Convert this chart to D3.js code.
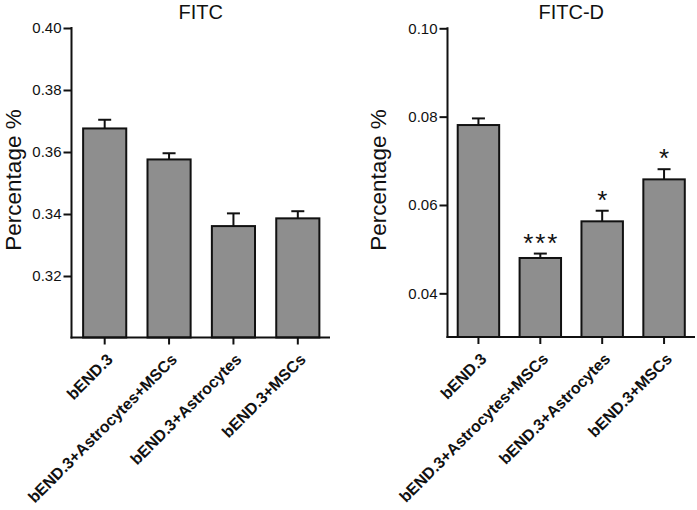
<!DOCTYPE html>
<html>
<head>
<meta charset="utf-8">
<script src="https://cdn.jsdelivr.net/npm/d3@7"></script>
<style>
  html, body { margin: 0; padding: 0; background: #fff; }
  svg { display: block; font-family: "Liberation Sans", Arial, sans-serif; }
</style>
</head>
<body>
<svg id="chart" width="697" height="510"></svg>
<script>
const categories = ["bEND.3", "bEND.3+Astrocytes+MSCs", "bEND.3+Astrocytes", "bEND.3+MSCs"];

const fitcMeans  = [0.3676, 0.3576, 0.3361, 0.3386];
const fitcErrors = [0.0028, 0.0020, 0.0041, 0.0023];
const fitcTicks  = [0.32, 0.34, 0.36, 0.38, 0.40];
const fitcDomain = [0.30, 0.40];
const fitcSig    = ["", "", "", ""];

const fitcdMeans  = [0.0781, 0.0480, 0.0563, 0.0658];
const fitcdErrors = [0.0015, 0.0010, 0.0024, 0.0023];
const fitcdTicks  = [0.04, 0.06, 0.08, 0.10];
const fitcdDomain = [0.03, 0.10];
const fitcdSig    = ["", "***", "*", "*"];

const svg = d3.select("#chart");

function drawPanel(opts) {
  const g = svg.append("g");
  const y = d3.scaleLinear().domain(opts.domain).range([opts.yBottom, opts.yTop]);
  const x = d3.scaleBand().domain(categories).range([opts.xStart, opts.xEnd])
    .paddingInner(0.33).paddingOuter(0.165);
  const axisY = opts.yBottom - 0.5;

  // title
  g.append("text")
    .attr("x", (opts.axisX + opts.xEnd) / 2).attr("y", 19)
    .attr("text-anchor", "middle").attr("font-size", 20).attr("fill", "#111")
    .text(opts.title);

  // y label
  g.append("text")
    .attr("transform", `translate(${opts.labelX},180) rotate(-90)`)
    .attr("text-anchor", "middle").attr("font-size", 22.5).attr("fill", "#111")
    .text("Percentage %");

  const rows = categories.map((c, i) => ({ c, m: opts.means[i], e: opts.errors[i], s: opts.sig[i] }));

  // bars
  g.selectAll("rect.bar").data(rows).join("rect")
    .attr("class", "bar")
    .attr("x", d => x(d.c)).attr("width", x.bandwidth())
    .attr("y", d => y(d.m)).attr("height", d => axisY - y(d.m))
    .attr("fill", "#8e8e8e").attr("stroke", "#111").attr("stroke-width", 2);

  // error bars
  g.selectAll("line.err").data(rows).join("line")
    .attr("class", "err")
    .attr("x1", d => x(d.c) + x.bandwidth() / 2).attr("x2", d => x(d.c) + x.bandwidth() / 2)
    .attr("y1", d => y(d.m)).attr("y2", d => y(d.m + d.e))
    .attr("stroke", "#111").attr("stroke-width", 2);
  g.selectAll("line.cap").data(rows).join("line")
    .attr("class", "cap")
    .attr("x1", d => x(d.c) + x.bandwidth() / 2 - 6.5).attr("x2", d => x(d.c) + x.bandwidth() / 2 + 6.5)
    .attr("y1", d => y(d.m + d.e)).attr("y2", d => y(d.m + d.e))
    .attr("stroke", "#111").attr("stroke-width", 2);

  // significance stars
  g.selectAll("text.sig").data(rows.filter(d => d.s)).join("text")
    .attr("class", "sig")
    .attr("x", d => x(d.c) + x.bandwidth() / 2 + 1)
    .attr("y", d => y(d.m + d.e) - 2)
    .attr("text-anchor", "middle").attr("font-size", 26).attr("letter-spacing", 2)
    .attr("fill", "#111")
    .text(d => d.s);

  // y axis
  const ya = g.append("g").attr("transform", `translate(${opts.axisX},0)`)
    .call(d3.axisLeft(y).tickValues(opts.ticks).tickSize(8).tickPadding(2)
      .tickFormat(d3.format(".2f")).tickSizeOuter(0));
  ya.select(".domain").remove();
  ya.append("line").attr("x1", 0).attr("x2", 0).attr("y1", opts.yTop - 1).attr("y2", axisY + 1)
    .attr("stroke", "#111").attr("stroke-width", 2);
  ya.selectAll(".tick line").attr("stroke", "#111").attr("stroke-width", 2);
  ya.selectAll(".tick text").attr("font-size", 15).attr("fill", "#111")
    .attr("font-family", "Liberation Sans, Arial, sans-serif");

  // x axis
  const xa = g.append("g").attr("transform", `translate(0,${axisY})`)
    .call(d3.axisBottom(x).tickSize(7).tickSizeOuter(0));
  xa.select(".domain").remove();
  xa.append("line").attr("x1", opts.axisX - 1).attr("x2", opts.xEnd).attr("y1", 0).attr("y2", 0)
    .attr("stroke", "#111").attr("stroke-width", 2);
  xa.selectAll(".tick line").attr("stroke", "#111").attr("stroke-width", 2);
  xa.selectAll(".tick text")
    .attr("font-size", 16).attr("font-weight", "bold").attr("fill", "#111")
    .attr("font-family", "Liberation Sans, Arial, sans-serif")
    .attr("text-anchor", "end").attr("dy", null).attr("y", null)
    .attr("transform", "translate(9,23) rotate(-45)");
}

drawPanel({
  title: "FITC", means: fitcMeans, errors: fitcErrors, ticks: fitcTicks, domain: fitcDomain,
  sig: fitcSig, axisX: 71.5, xStart: 72.5, xEnd: 330, yTop: 28, yBottom: 338, labelX: 21
});
drawPanel({
  title: "FITC-D", means: fitcdMeans, errors: fitcdErrors, ticks: fitcdTicks, domain: fitcdDomain,
  sig: fitcdSig, axisX: 447.5, xStart: 447.5, xEnd: 695, yTop: 28.3, yBottom: 337.5, labelX: 386
});
</script>
</body>
</html>
